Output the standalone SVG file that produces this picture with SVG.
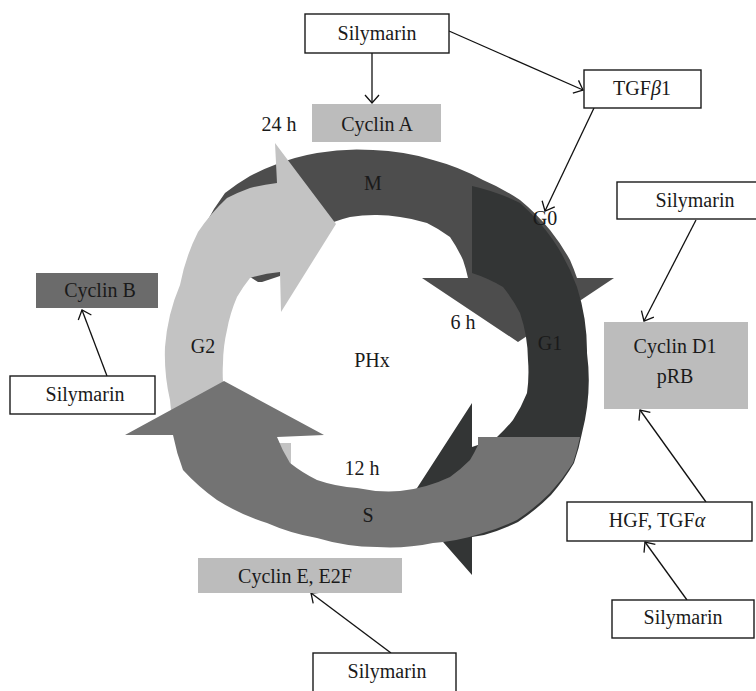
<svg xmlns="http://www.w3.org/2000/svg" width="756" height="691" viewBox="0 0 756 691">
<defs>
<style>
text{font-family:"Liberation Serif","Times New Roman",serif;font-size:20px;fill:#1a1a1a;text-anchor:middle}
.box{fill:#fff;stroke:#1a1a1a;stroke-width:1.4}
.gbox{fill:#bcbcbc;stroke:none}
.dbox{fill:#6b6b6b;stroke:none}
.con{stroke:#111;stroke-width:1.3;fill:none;marker-end:url(#ah)}
</style>
<marker id="ah" viewBox="0 0 10 16" refX="9" refY="8" markerWidth="10" markerHeight="16" markerUnits="userSpaceOnUse" orient="auto">
<path d="M1,1 L9,8 L1,15" fill="none" stroke="#111" stroke-width="1.3"/>
</marker>
</defs>
<rect width="756" height="691" fill="#fff"/>

<g id="cycle">
<path id="arrow-M" fill="#4d4d4d" d="M258,282 L200,245 L205,225 A220,220 0 0 1 225,193 A220,220 0 0 1 250,176 A220,220 0 0 1 277,164 A220,220 0 0 1 317,153 A220,220 0 0 1 373,150 A220,220 0 0 1 433,160 A220,220 0 0 1 483,180 A220,220 0 0 1 520,200 A220,220 0 0 1 550,230 A220,220 0 0 1 570,260 A220,220 0 0 1 577,278 L614,278 L518,342 L422,278 L468,278 A150,150 0 0 0 463,260 A150,150 0 0 0 450,237 A150,150 0 0 0 427,223 A150,150 0 0 0 400,217 A150,150 0 0 0 377,215 A150,150 0 0 0 350,217 A150,150 0 0 0 320,228 A150,150 0 0 0 298,246 A150,150 0 0 0 280,276 L262,282 Z"/>
<path id="arrow-G1" fill="#333535" d="M472,186 A210,210 0 0 1 520,203 A210,210 0 0 1 553,240 A210,210 0 0 1 577,287 A210,210 0 0 1 587,353 A210,210 0 0 1 582,433 A210,210 0 0 1 574,463 A210,210 0 0 1 551,495 A210,210 0 0 1 518,522 A210,210 0 0 1 484,535 L472,537 L472,575 L408,502 L472,403 L472,447 A150,150 0 0 0 497,437 A150,150 0 0 0 513,420 A150,150 0 0 0 527,393 A150,150 0 0 0 528,360 A150,150 0 0 0 520,313 A150,150 0 0 0 503,287 A150,150 0 0 0 472,273 Z"/>
<path id="arrow-G2" fill="#c3c3c3" d="M188,468 L175,435 A200,200 0 0 1 170,400 A200,200 0 0 1 165,347 A200,200 0 0 1 170,315 A200,200 0 0 1 180,285 A200,200 0 0 1 198,232 A200,200 0 0 1 227,198 A200,200 0 0 1 250,188 A200,200 0 0 1 277,183 L275,143 L336,224 L281,312 L280,272 A150,150 0 0 0 250,278 A150,150 0 0 0 237,297 A150,150 0 0 0 227,330 A150,150 0 0 0 223,363 A150,150 0 0 0 223,382 A150,150 0 0 0 232,412 A150,150 0 0 0 255,432 L265,443 L291,443 L291,470 Z"/>
<path id="arrow-S" fill="#737373" d="M478,437 L580,437 A210,210 0 0 1 573,463 A210,210 0 0 1 550,493 A210,210 0 0 1 517,520 A210,210 0 0 1 483,533 A210,210 0 0 1 433,543 A210,210 0 0 1 377,547 A210,210 0 0 1 317,538 A210,210 0 0 1 267,523 A210,210 0 0 1 217,500 A210,210 0 0 1 183,470 A210,210 0 0 1 173,435 L125,435 L224,381 L324,435 L277,437 A150,150 0 0 0 290,463 A150,150 0 0 0 317,480 A150,150 0 0 0 357,488 A150,150 0 0 0 400,491 A150,150 0 0 0 450,477 A150,150 0 0 0 470,460 A150,150 0 0 0 478,445 Z"/>
<text x="373" y="190">M</text>
<text x="545" y="225">G0</text>
<text x="463" y="329">6 h</text>
<text x="550" y="350">G1</text>
<text x="372" y="367">PHx</text>
<text x="203" y="353">G2</text>
<text x="362" y="475">12 h</text>
<text x="368" y="522">S</text>
<text x="279" y="131">24 h</text>
</g>

<g id="connectors">
<line class="con" x1="372" y1="53" x2="372" y2="103"/>
<line class="con" x1="449" y1="31" x2="583" y2="90"/>
<line class="con" x1="594" y1="108" x2="545" y2="211"/>
<line class="con" x1="107" y1="376" x2="82" y2="310"/>
<line class="con" x1="696" y1="220" x2="644" y2="321"/>
<line class="con" x1="706" y1="502" x2="640" y2="410"/>
<line class="con" x1="687" y1="600" x2="645" y2="542"/>
<line class="con" x1="391" y1="653" x2="311" y2="593"/>
</g>

<g id="silymarin-top"><rect class="box" x="305" y="14" width="144" height="39"/><text x="377" y="40">Silymarin</text></g>
<g id="tgfb1"><rect class="box" x="584" y="70" width="117" height="38"/><text x="642" y="95">TGF<tspan font-style="italic">β</tspan>1</text></g>
<g id="cyclin-a"><rect class="gbox" x="312" y="104" width="129" height="38"/><text x="377" y="131">Cyclin A</text></g>
<g id="cyclin-b"><rect class="dbox" x="36" y="273" width="122" height="35"/><text x="100" y="297">Cyclin B</text></g>
<g id="silymarin-left"><rect class="box" x="10" y="376" width="145" height="38"/><text x="85" y="401">Silymarin</text></g>
<g id="silymarin-right"><rect class="box" x="617" y="182" width="160" height="37"/><text x="695" y="207">Silymarin</text></g>
<g id="cyclin-d1"><rect class="gbox" x="604" y="322" width="144" height="87"/><text x="675" y="353">Cyclin D1</text><text x="675" y="383">pRB</text></g>
<g id="hgf"><rect class="box" x="567" y="502" width="185" height="39"/><text x="657" y="527">HGF, TGF<tspan font-style="italic">α</tspan></text></g>
<g id="silymarin-br"><rect class="box" x="612" y="600" width="142" height="38"/><text x="683" y="624">Silymarin</text></g>
<g id="cyclin-e"><rect class="gbox" x="198" y="558" width="204" height="35"/><text x="295" y="583">Cyclin E, E2F</text></g>
<g id="silymarin-bottom"><rect class="box" x="313" y="653" width="143" height="42"/><text x="387" y="678">Silymarin</text></g>
</svg>
